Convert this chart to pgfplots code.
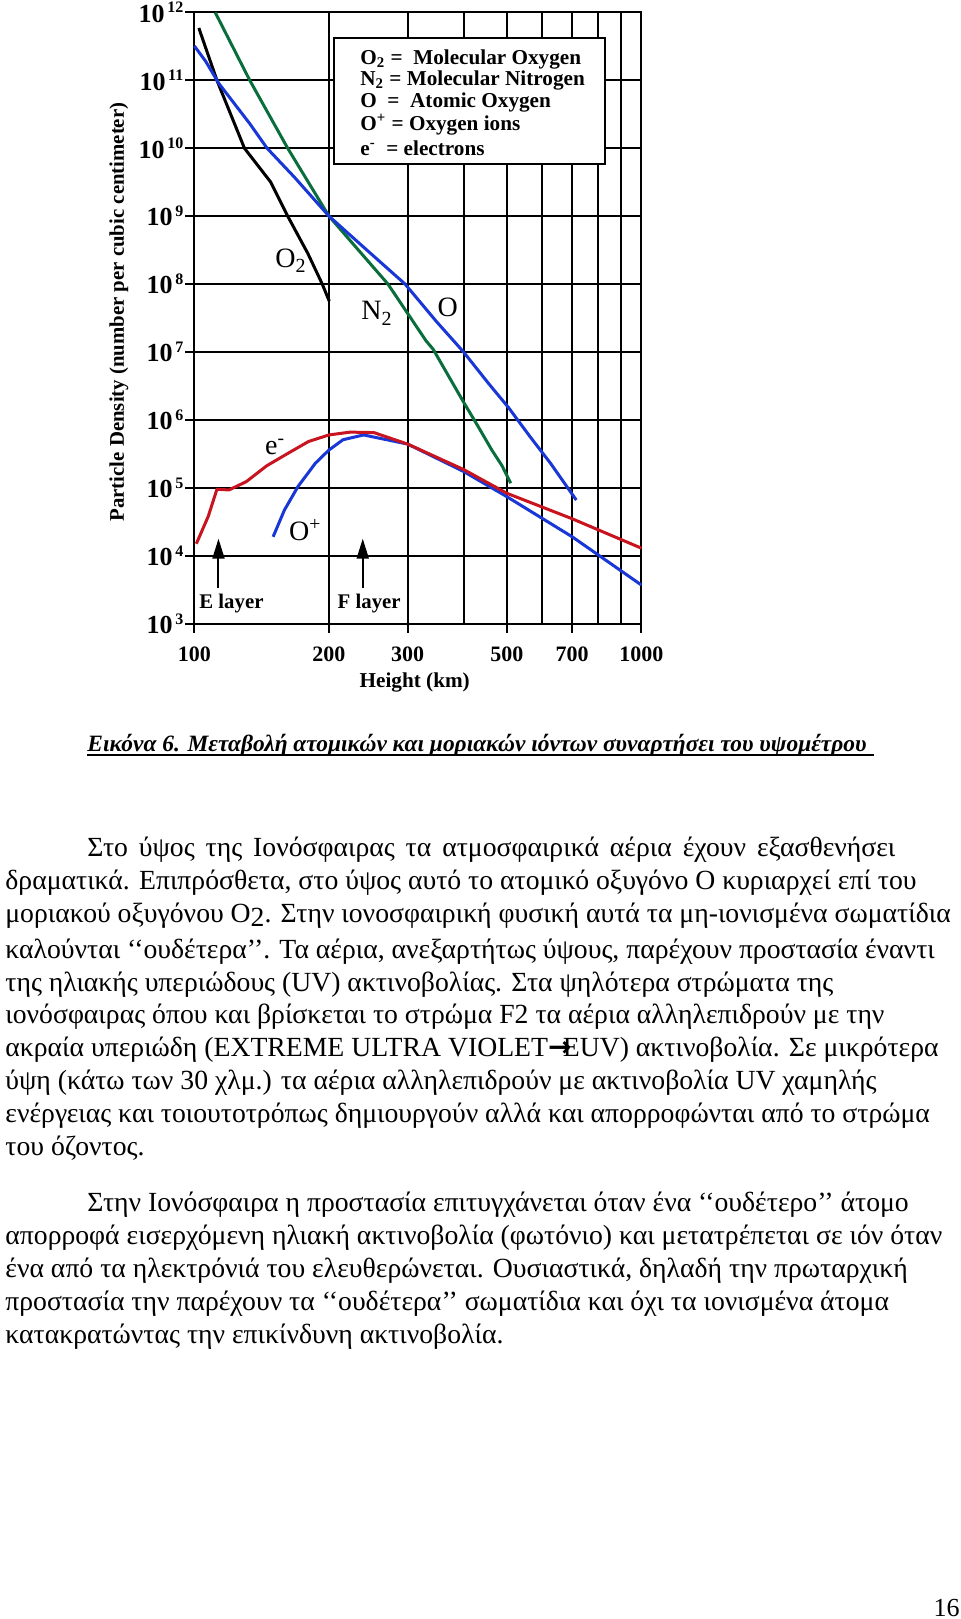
\documentclass[border=0pt]{standalone}
\usepackage{pgfplots}
\pgfplotsset{compat=1.18}
\usepackage{fontspec}
\setmainfont{Liberation Serif}
\newfontfamily\sym{DejaVu Sans}
\usetikzlibrary{arrows.meta}

\definecolor{oblue}{RGB}{25,55,215}
\definecolor{ered}{RGB}{200,20,30}
\definecolor{ngreen}{RGB}{10,110,60}

% tick label 10^n
\newcommand\dec[1]{\textbf{\fontsize{13}{13}\selectfont 10}\raisebox{1.0ex}{\fontsize{8}{8}\selectfont\bfseries\,#1}}
\newcommand\bodyfont{\fontsize{13.85}{16}\selectfont}

\begin{document}
\begin{tikzpicture}
\fill[white] (0,0) rectangle (480pt,-809.5pt);
\path[use as bounding box] (0,0) rectangle (480pt,-809.5pt);

\begin{axis}[
  at={(97.2pt,-311.8pt)}, anchor=south west,
  scale only axis, width=223.5pt, height=305.6pt,
  xmode=log, ymode=log,
  xmin=100, xmax=1000, ymin=1e3, ymax=1e12,
  xtick={100,200,300,500,700,1000},
  xticklabels={100,200,300,500,700,1000},
  extra x ticks={400,600,800,900},
  extra x tick labels={},
  extra x tick style={major tick length=0pt},
  ytick={1e3,1e4,1e5,1e6,1e7,1e8,1e9,1e10,1e11,1e12},
  yticklabels={\dec{3},\dec{4},\dec{5},\dec{6},\dec{7},\dec{8},\dec{9},\dec{10},\dec{11},\dec{12}},
  xminorticks=false, yminorticks=false,
  grid=major,
  major grid style={black, line width=1pt},
  axis line style={black, line width=1pt},
  tick style={black, line width=1pt},
  tick align=outside, tick pos=left,
  major tick length=4.5pt,
  xticklabel style={font=\fontsize{11}{11}\selectfont\bfseries, yshift=-3.5pt},
  yticklabel style={xshift=2.5pt},
  clip=false,
]
% O2 molecular oxygen
\addplot[black, line width=1.5pt] coordinates {
  (102.3,5.9e11) (112.3,1e11) (129.4,1e10) (148,3.2e9) (161.7,1e9)
  (179.5,2.8e8) (193.2,1e8) (200.3,5.6e7)};
% N2 molecular nitrogen
\addplot[ngreen, line width=1.5pt] coordinates {
  (111.3,1e12) (133,1e11) (161.7,1e10) (200,1e9) (271,1e8) (330,1.45e7)
  (342,1.1e7) (367,4.9e6) (401,1.78e6) (430.7,8.1e5) (462.7,3.6e5)
  (488,2.1e5) (510,1.17e5)};
% O atomic oxygen
\addplot[oblue, line width=1.5pt] coordinates {
  (100,3.2e11) (106,1.9e11) (113.4,9e10) (133,2.3e10) (145.4,1e10)
  (167.7,3.7e9) (200,1e9) (239,3.5e8) (296,1e8) (348,2.8e7) (400,1e7)
  (454,3.5e6) (505,1.5e6) (563,5.7e5) (626,2.3e5) (715,6.6e4)};
% O+ oxygen ions
\addplot[oblue, line width=1.5pt] coordinates {
  (150,1.9e4) (159,4.7e4) (170.6,1.05e5) (186.5,2.3e5) (200,3.6e5)
  (215,5.1e5) (239,6.0e5) (300,4.4e5) (400,1.74e5) (500,7.4e4)
  (700,1.9e4) (1000,3.7e3)};
% electrons
\addplot[ered, line width=1.5pt] coordinates {
  (101,1.5e4) (107.4,3.8e4) (112.3,9.5e4) (119.5,9.3e4) (130.6,1.23e5)
  (145,2.1e5) (161.7,3.2e5) (180,4.8e5) (200,6.0e5) (223,6.6e5)
  (252,6.5e5) (300,4.4e5) (400,1.86e5) (500,8.3e4) (700,3.5e4)
  (1000,1.29e4)};

\node[font=\fontsize{14}{14}\selectfont] at (axis cs:164,2.2e8) {O\raisebox{-0.4ex}{\fontsize{10}{10}\selectfont 2}};
\node[font=\fontsize{14}{14}\selectfont] at (axis cs:255.5,3.7e7) {N\raisebox{-0.4ex}{\fontsize{10}{10}\selectfont 2}};
\node[font=\fontsize{14}{14}\selectfont] at (axis cs:369,4.6e7) {O};
\node[font=\fontsize{14}{14}\selectfont] at (axis cs:151.5,4e5) {e\textsuperscript{-}};
\node[font=\fontsize{14}{14}\selectfont] at (axis cs:177,2.4e4) {O\textsuperscript{+}};
\node[font=\fontsize{10.4}{10.4}\selectfont\bfseries] at (axis cs:121,2e3) {E layer};
\node[font=\fontsize{10.4}{10.4}\selectfont\bfseries] at (axis cs:246,2e3) {F layer};
\draw[line width=1pt, -{Triangle[length=10pt,width=6pt]}] (axis cs:113.2,3.4e3) -- (axis cs:113.2,1.78e4);
\draw[line width=1pt, -{Triangle[length=10pt,width=6pt]}] (axis cs:238,3.4e3) -- (axis cs:238,1.78e4);
\end{axis}

\begin{scope}[x=0.5pt, y=-0.5pt]
% key box
\draw[line width=1pt, fill=white] (334,38) rectangle (605,164);
\begin{scope}[every node/.style={anchor=west, inner sep=0, font=\fontsize{10.6}{10.6}\selectfont\bfseries}]
\node at (360,59) {O\textsubscript{2} = \ Molecular Oxygen};
\node at (360,80.5) {N\textsubscript{2} = Molecular Nitrogen};
\node at (360,102) {O \ = \ Atomic Oxygen};
\node at (360,125) {O\textsuperscript{+} = Oxygen ions};
\node at (360,148) {e\textsuperscript{-} \ = electrons};
\end{scope}
% axis titles
\node[rotate=90, font=\fontsize{10.4}{10.4}\selectfont\bfseries] at (119,312) {Particle Density (number per cubic centimeter)};
\node[font=\fontsize{10.6}{10.6}\selectfont\bfseries] at (414.7,682.5) {Height (km)};

% caption
\node[anchor=base west, inner sep=0, font=\fontsize{11.7}{14}\selectfont\bfseries\itshape] at (87,751)
  {Εικόνα 6. Μεταβολή ατομικών και μοριακών ιόντων συναρτήσει του υψομέτρου};
\draw[line width=1pt] (87,755) -- (874,755);

% body text
\begin{scope}[every node/.style={anchor=base west, inner sep=0, font=\bodyfont}]
\node at (87,856) {\makebox[404pt][s]{Στο ύψος της Ιονόσφαιρας τα ατμοσφαιρικά αέρια έχουν εξασθενήσει}};
\node at (5,889) {δραματικά. Επιπρόσθετα, στο ύψος αυτό το ατομικό οξυγόνο Ο κυριαρχεί επί του};
\node at (5,922) {μοριακού οξυγόνου O\raisebox{-0.35ex}{2}. Στην ιονοσφαιρική φυσική αυτά τα μη-ιονισμένα σωματίδια};
\node at (5,958) {καλούνται ‘‘ουδέτερα’’. Τα αέρια, ανεξαρτήτως ύψους, παρέχουν προστασία έναντι};
\node at (5,991) {της ηλιακής υπεριώδους (UV) ακτινοβολίας. Στα ψηλότερα στρώματα της};
\node at (5,1023) {ιονόσφαιρας όπου και βρίσκεται το στρώμα F2 τα αέρια αλληλεπιδρούν με την};
\node at (5,1056) {ακραία υπεριώδη (EXTREME ULTRA VIOLET{\sym\bfseries →}\kern-0.3em EUV) ακτινοβολία. Σε μικρότερα};
\node at (5,1089) {ύψη (κάτω των 30 χλμ.) τα αέρια αλληλεπιδρούν με ακτινοβολία UV χαμηλής};
\node at (5,1122) {ενέργειας και τοιουτοτρόπως δημιουργούν αλλά και απορροφώνται από το στρώμα};
\node at (5,1155) {του όζοντος.};
\node at (87,1211) {Στην Ιονόσφαιρα η προστασία επιτυγχάνεται όταν ένα ‘‘ουδέτερο’’ άτομο};
\node at (5,1244) {απορροφά εισερχόμενη ηλιακή ακτινοβολία (φωτόνιο) και μετατρέπεται σε ιόν όταν};
\node at (5,1277) {ένα από τα ηλεκτρόνιά του ελευθερώνεται. Ουσιαστικά, δηλαδή την πρωταρχική};
\node at (5,1310) {προστασία την παρέχουν τα ‘‘ουδέτερα’’ σωματίδια και όχι τα ιονισμένα άτομα};
\node at (5,1343) {κατακρατώντας την επικίνδυνη ακτινοβολία.};
\end{scope}
\node[anchor=base east, inner sep=0, font=\fontsize{13}{13}\selectfont] at (960,1616) {16};
\end{scope}
\end{tikzpicture}
\end{document}
